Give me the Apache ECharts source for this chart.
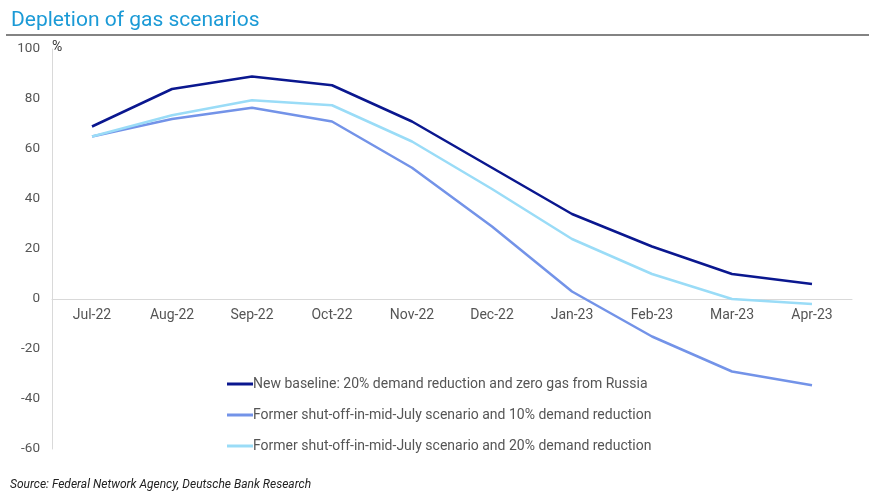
<!DOCTYPE html>
<html><head><meta charset="utf-8">
<script src="https://cdn.jsdelivr.net/npm/echarts@6/dist/echarts.min.js"></script>
<style>html,body{margin:0;padding:0;background:#fff}#c{width:869px;height:495px}</style>
</head><body><div id="c"></div>
<script>
const categories = ['Jul-22','Aug-22','Sep-22','Oct-22','Nov-22','Dec-22','Jan-23','Feb-23','Mar-23','Apr-23'];
const baseline = [69, 84, 89, 85.5, 71, 52.5, 34, 21, 10, 6];
const former10 = [65, 72, 76.5, 71, 52.5, 29, 3, -15, -29, -34.5];
const former20 = [65, 73.5, 79.5, 77.5, 63, 44, 24, 10, 0, -2];
const seriesNames = [
  'New baseline: 20% demand reduction and zero gas from Russia',
  'Former shut-off-in-mid-July scenario and 10% demand reduction',
  'Former shut-off-in-mid-July scenario and 20% demand reduction'
];
const colors = ['#0a178f', '#7393e8', '#9adcf7'];
const font = 'Roboto, "Liberation Sans", Arial, sans-serif';

const chart = echarts.init(document.getElementById('c'));
chart.setOption({
  animation: false,
  textStyle: { fontFamily: font },
  title: {
    text: 'Depletion of gas scenarios', left: 6, top: 5,
    textStyle: { color: '#1b9ad6', fontSize: 21, fontWeight: 'normal', fontFamily: font }
  },
  graphic: [
    { type: 'line', shape: { x1: 6, y1: 35, x2: 869, y2: 35 }, style: { stroke: '#5a5a5a', lineWidth: 1.5 } },
    { type: 'text', left: 52, top: 40, style: { text: '%', fill: '#333', font: '14px ' + font } },
    { type: 'text', left: 10, top: 479, style: { text: 'Source: Federal Network Agency, Deutsche Bank Research', fill: '#222', font: 'italic 12px ' + font } }
  ],
  grid: [
    { left: 52, right: 17, top: 49, bottom: 46 },
    { left: 52, right: 17, top: 49, bottom: 196 }
  ],
  legend: {
    orient: 'vertical', left: 222, top: 372, itemGap: 17, itemWidth: 26, itemHeight: 3,
    icon: 'rect',
    textStyle: { color: '#555', fontSize: 14, padding: [0,0,0,-5] },
    data: seriesNames
  },
  xAxis: [
    {
      type: 'category', data: categories, boundaryGap: true, gridIndex: 0,
      axisLine: { show: false }, axisTick: { show: false }, axisLabel: { show: false }
    },
    {
      type: 'category', data: categories, boundaryGap: true, gridIndex: 1,
      axisLine: { show: true, onZero: false, lineStyle: { color: '#d9d9d9' } },
      axisTick: { show: false },
      axisLabel: { color: '#555', fontSize: 14, margin: 9 }
    }
  ],
  yAxis: [
    {
      type: 'value', min: -60, max: 100, interval: 20, gridIndex: 0,
      axisLine: { show: true, lineStyle: { color: '#d9d9d9' } },
      axisTick: { show: false },
      splitLine: { show: false },
      axisLabel: { color: '#555', fontSize: 13.5, margin: 12 }
    },
    {
      type: 'value', min: 0, max: 100, gridIndex: 1, show: false, splitLine: { show: false }
    }
  ],
  series: [
    { name: seriesNames[0], type: 'line', data: baseline, symbol: 'none', lineStyle: { width: 2.5, color: colors[0] }, itemStyle: { color: colors[0] } },
    { name: seriesNames[1], type: 'line', data: former10, symbol: 'none', lineStyle: { width: 2.5, color: colors[1] }, itemStyle: { color: colors[1] } },
    { name: seriesNames[2], type: 'line', data: former20, symbol: 'none', lineStyle: { width: 2.5, color: colors[2] }, itemStyle: { color: colors[2] } }
  ]
});
</script></body></html>
